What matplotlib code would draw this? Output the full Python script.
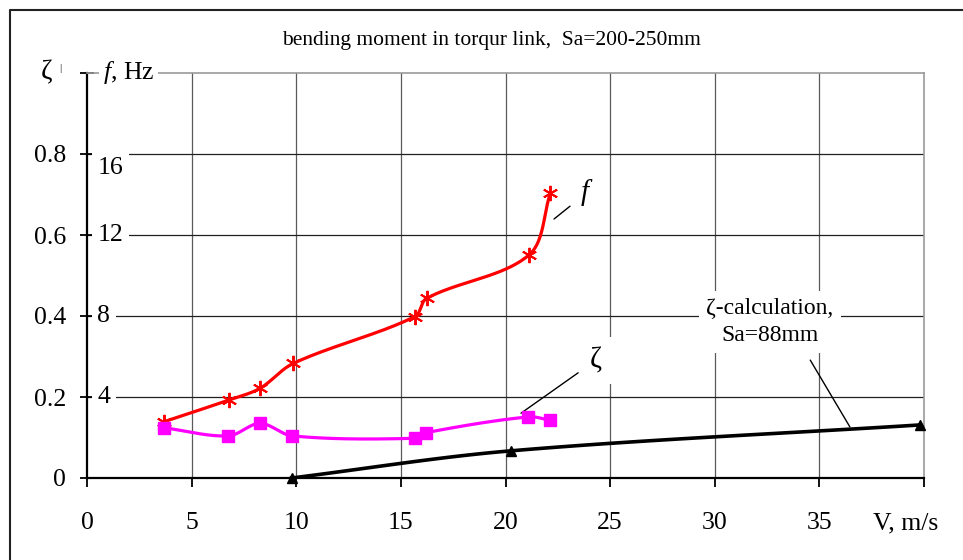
import numpy as np
import matplotlib
matplotlib.use("Agg")
import matplotlib.pyplot as plt
from matplotlib.lines import Line2D

plt.rcParams['font.family'] = ['Liberation Serif', 'DejaVu Serif']
plt.rcParams['mathtext.fontset'] = 'custom'
plt.rcParams['mathtext.it'] = 'Liberation Serif:italic'
plt.rcParams['mathtext.rm'] = 'Liberation Serif'

# ---- data ----
title = "bending moment in torqur link,  Sa=200-250mm"
x_ticks = [0, 5, 10, 15, 20, 25, 30, 35]
y_ticks = [0, 0.2, 0.4, 0.6, 0.8]
y_tick_labels = ["0", "0.2", "0.4", "0.6", "0.8"]
f_tick_values = [4, 8, 12, 16]
f_tick_labels = ["4", "8", "12", "16"]

# f, Hz (right scale, 0..20 maps to zeta 0..1)
f_v = [3.68, 6.78, 8.27, 9.86, 15.67, 16.23, 21.12, 22.15]
f_hz = [2.78, 3.85, 4.43, 5.66, 7.97, 8.87, 11.01, 14.09]

# zeta measured
z_v = [3.68, 6.75, 8.27, 9.81, 15.67, 16.20, 21.09, 22.12]
z_val = [0.124, 0.104, 0.135, 0.104, 0.098, 0.112, 0.151, 0.143]

# zeta calculation, Sa=88mm
c_v = [9.78, 20.24, 39.8]
c_val = [0.0, 0.067, 0.131]

F_SCALE = 20.0  # f = zeta * 20


def smooth(x, y, n=40):
    """Smoothed line through the points (Bezier, chord-weighted tangents)."""
    x = np.asarray(x, float)
    y = np.asarray(y, float)
    sxs, sys_ = 20.9, 405.0
    P = np.column_stack([x * sxs, y * sys_])
    P = np.vstack([P[0], P, P[-1]])
    out = []
    for i in range(1, len(P) - 2):
        p0, p1, p2, p3 = P[i - 1], P[i], P[i + 1], P[i + 2]
        d01 = np.linalg.norm(p1 - p0)
        d12 = np.linalg.norm(p2 - p1)
        d23 = np.linalg.norm(p3 - p2)
        c1 = p1 + (p2 - p0) * d12 / (3 * (d01 + d12)) if d01 + d12 > 0 else p1
        c2 = p2 - (p3 - p1) * d12 / (3 * (d12 + d23)) if d12 + d23 > 0 else p2
        t = np.linspace(0, 1, n)[:, None]
        seg = ((1 - t) ** 3) * p1 + 3 * ((1 - t) ** 2) * t * c1 + 3 * (1 - t) * t ** 2 * c2 + t ** 3 * p2
        out.append(seg if i == 1 else seg[1:])
    out = np.vstack(out)
    return out[:, 0] / sxs, out[:, 1] / sys_


W, H = 963, 560
fig = plt.figure(figsize=(W / 100, H / 100), dpi=100)
L, R, B, T = 87, 924, 478, 73
ax = fig.add_axes([L / W, 1 - B / H, (R - L) / W, (B - T) / H])
ax.set_xlim(0, 40)
ax.set_ylim(0, 1.0)

# grid
for xv in x_ticks[1:]:
    ax.axvline(xv, color='#5a5a5a', lw=0.9, zorder=1)
for yv in y_ticks[1:]:
    ax.axhline(yv, color='#202020', lw=0.9, zorder=1)

for s in ['top', 'right']:
    ax.spines[s].set_color('#9a9a9a')
    ax.spines[s].set_linewidth(1.2)
for s in ['left', 'bottom']:
    ax.spines[s].set_color('black')
    ax.spines[s].set_linewidth(1.6)

ax.set_xticks(x_ticks + [40])
ax.set_xticklabels([str(v) for v in x_ticks] + [""])
ax.set_yticks(y_ticks + [1.0])
ax.set_yticklabels(y_tick_labels + [""])
ax.tick_params(axis='x', direction='out', length=6.5, width=1.3, pad=18, labelsize=18.5)
ax.tick_params(axis='y', direction='inout', length=10, width=1.3, pad=10, labelsize=18.5)

# series
fz = np.array(f_hz) / F_SCALE
sx, sy = smooth(f_v, fz)
ax.plot(sx, sy, color='#ff0000', lw=2.3, zorder=4, solid_capstyle='round')
ax.plot(f_v, fz, ls='none', marker=(6, 2, 0), ms=11, mec='#ff0000', mew=1.4, zorder=5)

sx, sy = smooth(z_v, z_val)
ax.plot(sx, sy, color='#ff00ff', lw=2.3, zorder=4)
ax.plot(z_v, z_val, ls='none', marker='s', ms=8.5, mfc='#ff00ff', mec='#ff00ff', zorder=5)

sx, sy = smooth(c_v, c_val)
ax.plot(sx, sy, color='black', lw=2.6, zorder=4)
ax.plot(c_v, c_val, ls='none', marker='^', ms=7.5, mfc='black', mec='black', zorder=5, clip_on=False)

# right-scale (f, Hz) labels inside plot area
for fv, fl in zip(f_tick_values, f_tick_labels):
    yy = fv / F_SCALE
    if fv == 16:
        yy -= 0.035
    ax.text(0.5, yy, fl, ha='left', va='center', fontsize=18.5, zorder=3,
            bbox=dict(boxstyle='square,pad=0.22', fc='white', ec='none'))

# axis header labels
ax.text(-0.042, 1.0, "ζ", transform=ax.transAxes, ha='right', va='center', fontsize=20)
ax.text(-0.032, 1.012, "|", transform=ax.transAxes, ha='center', va='center', fontsize=8)
ax.text(0.75, 1.0, r"$f$, Hz", ha='left', va='center', fontsize=18.5, zorder=3,
        bbox=dict(boxstyle='square,pad=0.15', fc='white', ec='none'))
ax.text(39.1, -0.111, "V, m/s", ha='center', va='center', fontsize=18.5, clip_on=False)

# annotations
ax.annotate(r"$f$", xy=(22.32, 0.6395), xytext=(23.9, 0.705), fontsize=21,
            ha='center', va='center',
            arrowprops=dict(arrowstyle='-', color='black', lw=1.0, shrinkA=7, shrinkB=0))
ax.annotate("ζ", xy=(20.74, 0.160), xytext=(24.3, 0.29), fontsize=21,
            ha='center', va='center',
            bbox=dict(boxstyle='square,pad=0.35', fc='white', ec='none'),
            arrowprops=dict(arrowstyle='-', color='black', lw=1.0, shrinkA=1, shrinkB=0))
ax.annotate("ζ-calculation,\nSa=88mm", xy=(36.46, 0.126), xytext=(32.64, 0.385), fontsize=17,
            ha='center', va='center', linespacing=1.35,
            bbox=dict(boxstyle='square,pad=0.3', fc='white', ec='none'),
            arrowprops=dict(arrowstyle='-', color='black', lw=1.0, shrinkA=6, shrinkB=0,
                            relpos=(0.75, 0.0)))

fig.text(491 / W, 1 - 40 / H, title, ha='center', va='center', fontsize=15.5)

# outer frame
fig.add_artist(Line2D([10 / W, 10 / W, 1.0], [0.0, 1 - 10 / H, 1 - 10 / H],
                      transform=fig.transFigure, color='#222222', lw=1.5))

fig.savefig("out.png", dpi=100)
